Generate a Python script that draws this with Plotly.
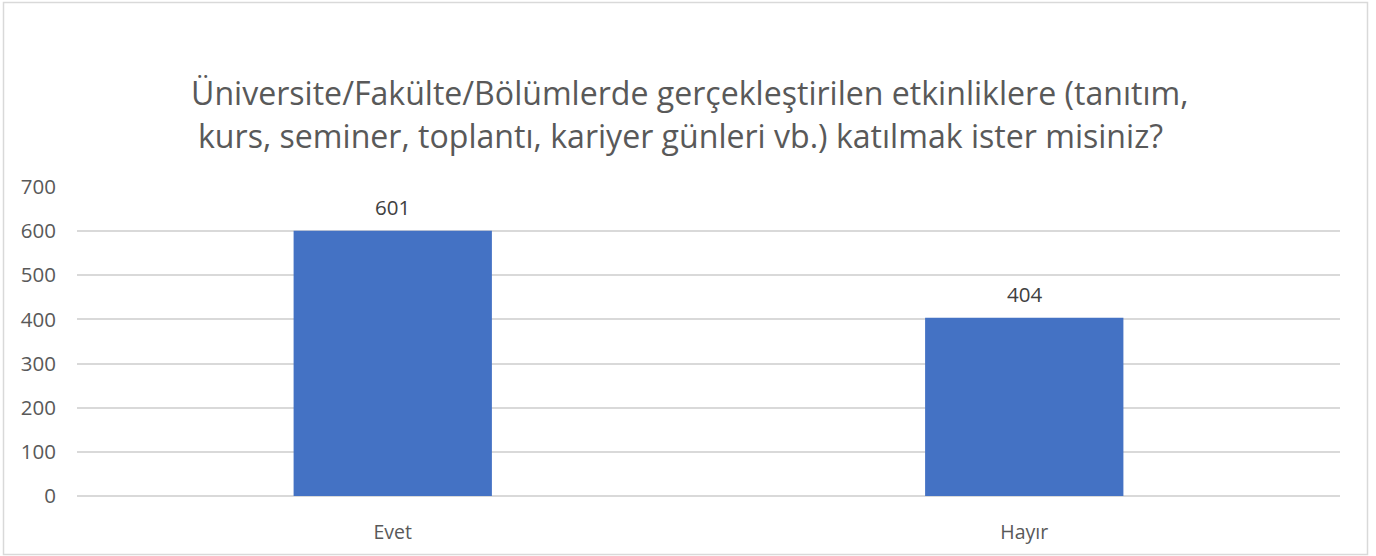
import plotly.graph_objects as go

categories = ["Evet", "Hayır"]
values = [601, 404]
title_lines = ["Üniversite/Fakülte/Bölümlerde gerçekleştirilen etkinliklere (tanıtım,",
               "kurs, seminer, toplantı, kariyer günleri vb.) katılmak ister misiniz?"]

W, H = 1376, 556
font_family = "'Open Sans', sans-serif"

fig = go.Figure(go.Bar(
    x=categories, y=values,
    marker=dict(color="#4472C4", line=dict(width=0)),
    width=0.314, hoverinfo="skip",
))

label_annotations = [
    dict(x=c, y=v, xref="x", yref="y", text=str(v), showarrow=False,
         xanchor="center", yanchor="bottom", yshift=8,
         font=dict(size=20.5, color="#404040", family=font_family))
    for c, v in zip(categories, values)
]

fig.update_layout(
    width=W, height=H,
    margin=dict(l=0, r=0, t=0, b=0),
    paper_bgcolor="white", plot_bgcolor="white",
    showlegend=False,
    font=dict(family=font_family, color="#595959"),
    xaxis=dict(domain=[77 / W, 1340 / W], showgrid=False, showline=False,
               ticks="outside", ticklen=19, tickcolor="rgba(0,0,0,0)",
               tickfont=dict(size=19.5, color="#595959"), automargin=False),
    yaxis=dict(domain=[60 / H, (H - 187) / H], range=[0, 700], dtick=100,
               showgrid=True, gridcolor="#d9d9d9", gridwidth=1.5,
               zeroline=True, zerolinecolor="#d9d9d9", zerolinewidth=1.5,
               showline=False, ticks="outside", ticklen=16, tickcolor="rgba(0,0,0,0)",
               tickfont=dict(size=20.5, color="#595959"), automargin=False),
    shapes=[dict(type="rect", xref="paper", yref="paper",
                 x0=3.5 / W, x1=1367.5 / W, y0=(H - 554.5) / H, y1=(H - 2.5) / H,
                 line=dict(color="#d9d9d9", width=1.5), fillcolor="rgba(0,0,0,0)",
                 layer="below")],
    annotations=[
        dict(text=title_lines[0], xref="paper", yref="paper", x=690 / W, y=(H - 93) / H,
             showarrow=False, xanchor="center", yanchor="middle",
             font=dict(size=32.1, color="#595959", family=font_family)),
        dict(text=title_lines[1], xref="paper", yref="paper", x=680 / W, y=(H - 135) / H,
             showarrow=False, xanchor="center", yanchor="middle",
             font=dict(size=32.1, color="#595959", family=font_family)),
    ] + label_annotations,
)

fig.write_html("out.html", config={"displayModeBar": False},
               post_script="document.body.style.margin='0';")
